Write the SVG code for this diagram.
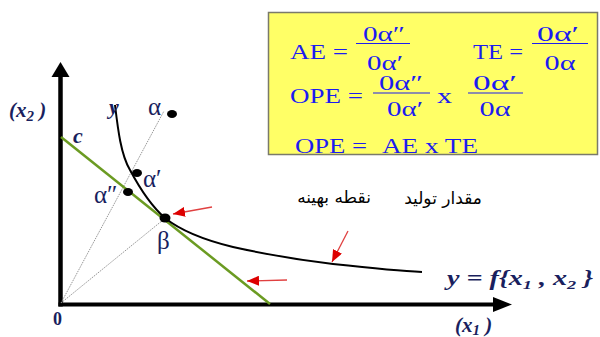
<svg xmlns="http://www.w3.org/2000/svg" width="600" height="337" viewBox="0 0 600 337">
<defs>
<style>
.lab{font-family:"Liberation Serif","Times New Roman",serif;fill:#1a1f5e}
.bi{font-weight:bold;font-style:italic}
.greek{font-family:"Liberation Serif","Times New Roman",serif;fill:#1a1f5e;font-size:25px}
.f{font-family:"Liberation Serif","Times New Roman",serif;fill:#1c1cf0;font-size:21px}
.fr{stroke:#1c1cf0;stroke-width:1.2}
.ar{font-family:"DejaVu Sans","Noto Sans",sans-serif;font-size:17px;fill:#000}
.ray{stroke:#8a8a8a;stroke-width:0.9;stroke-dasharray:1.5 1;fill:none}
.red{stroke:#e04040;stroke-width:1.3;fill:none;marker-end:url(#rh)}
.dot{fill:#000}
</style>
<marker id="rh" markerUnits="userSpaceOnUse" viewBox="0 0 12 10" markerWidth="12" markerHeight="10" refX="12" refY="5" orient="auto">
<path d="M0,0 L12,5 L0,10 z" fill="#dd0000"/>
</marker>
</defs>
<rect width="600" height="337" fill="#fff"/>

<g id="formula-box">
<rect x="268.5" y="12.5" width="329" height="142" fill="#ffff66" stroke="#7a7a6a" stroke-width="1.5"/>
<text class="f" x="290" y="59" textLength="58" lengthAdjust="spacingAndGlyphs">AE =</text>
<text class="f" x="384" y="41" text-anchor="middle" textLength="42" lengthAdjust="spacingAndGlyphs">0α″</text>
<line class="fr" x1="356" y1="43.5" x2="410" y2="43.5"/>
<text class="f" x="385" y="70" text-anchor="middle" textLength="36" lengthAdjust="spacingAndGlyphs">0α′</text>
<text class="f" x="473" y="59" textLength="50" lengthAdjust="spacingAndGlyphs">TE =</text>
<text class="f" x="558" y="41" text-anchor="middle" textLength="42" lengthAdjust="spacingAndGlyphs">0α′</text>
<line class="fr" x1="532" y1="43.5" x2="588" y2="43.5"/>
<text class="f" x="560" y="70" text-anchor="middle" textLength="31" lengthAdjust="spacingAndGlyphs">0α</text>
<text class="f" x="290" y="103" textLength="73" lengthAdjust="spacingAndGlyphs">OPE =</text>
<text class="f" x="401" y="90" text-anchor="middle" textLength="44" lengthAdjust="spacingAndGlyphs">0α″</text>
<line class="fr" x1="373" y1="93" x2="430" y2="93"/>
<text class="f" x="405" y="116" text-anchor="middle" textLength="36" lengthAdjust="spacingAndGlyphs">0α′</text>
<text class="f" x="437" y="103" textLength="15" lengthAdjust="spacingAndGlyphs">x</text>
<text class="f" x="495" y="90" text-anchor="middle" textLength="44" lengthAdjust="spacingAndGlyphs">0α′</text>
<line class="fr" x1="468" y1="93" x2="523" y2="93"/>
<text class="f" x="495" y="116" text-anchor="middle" textLength="31" lengthAdjust="spacingAndGlyphs">0α</text>
<text class="f" x="295" y="153" textLength="72" lengthAdjust="spacingAndGlyphs">OPE =</text>
<text class="f" x="382" y="153" textLength="96" lengthAdjust="spacingAndGlyphs">AE x TE</text>
</g>

<g id="axes">
<line x1="60.5" y1="306.5" x2="60.5" y2="75" stroke="#000" stroke-width="4.5"/>
<path d="M60.5,62 L51.5,77 L69.5,77 z" fill="#000"/>
<line x1="58.5" y1="304.5" x2="496" y2="304.5" stroke="#000" stroke-width="4"/>
<path d="M512,304.5 L493,297 L493,312 z" fill="#000"/>
<text class="lab bi" x="9" y="117" font-size="21">(x<tspan font-size="15" dy="4">2</tspan><tspan dy="-4"> )</tspan></text>
<text class="lab" x="53" y="325" font-size="18" font-weight="bold">0</text>
<text class="lab bi" x="455" y="332" font-size="21">(x<tspan font-size="15" dy="3">1</tspan><tspan dy="-3"> )</tspan></text>
</g>

<g id="connectors">
<line class="ray" x1="61" y1="303" x2="164" y2="111"/>
<line class="ray" x1="61" y1="303" x2="163" y2="220"/>
<line id="budget-line" x1="61" y1="137" x2="270" y2="304" stroke="#6b9b22" stroke-width="2.5"/>
<path id="isoquant" d="M115,105 C118,130 121,155 130,170 C138,185 150,205 165,218 C180,230 200,239 233,247 C260,253 290,259 333,264 C370,268 400,271 422,272" fill="none" stroke="#000" stroke-width="2"/>
<line class="red" x1="212" y1="207" x2="173" y2="214"/>
<line class="red" x1="348" y1="231" x2="332" y2="262"/>
<line class="red" x1="287" y1="280" x2="247" y2="281"/>
</g>

<g id="node-alpha">
<ellipse class="dot" cx="172" cy="114" rx="5" ry="4"/>
<text class="greek" x="148" y="115">α</text>
</g>
<g id="node-alpha1">
<ellipse class="dot" cx="137" cy="173" rx="5" ry="4"/>
<text class="greek" x="143" y="187">α′</text>
</g>
<g id="node-alpha2">
<text class="greek" x="94" y="203">α″</text>
<ellipse class="dot" cx="128" cy="192" rx="5" ry="4"/>
</g>
<g id="node-beta">
<ellipse class="dot" cx="165" cy="218" rx="5.5" ry="4.5"/>
<text class="greek" x="157" y="249" font-size="25">β</text>
</g>
<g id="labels">
<text class="lab bi" x="109" y="114" font-size="22">y</text>
<text class="lab bi" x="73" y="143" font-size="22">c</text>
<text class="lab bi" x="447" y="285" font-size="20" textLength="146" lengthAdjust="spacingAndGlyphs">y = f{x<tspan font-size="13" dy="4">1</tspan><tspan dy="-4"> , x</tspan><tspan font-size="13" dy="4">2</tspan><tspan dy="-4"> }</tspan></text>
<text class="ar" x="334" y="203" text-anchor="middle">نقطه بهینه</text>
<text class="ar" x="443" y="204" text-anchor="middle">مقدار تولید</text>
</g>
</svg>
